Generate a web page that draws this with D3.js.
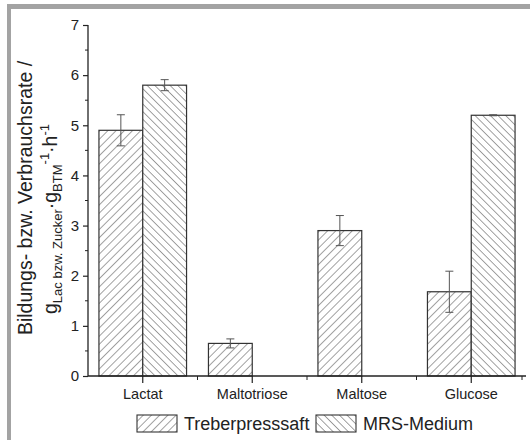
<!DOCTYPE html>
<html>
<head>
<meta charset="utf-8">
<script src="https://cdn.jsdelivr.net/npm/d3@7"></script>
<style>
  body { margin: 0; background: #fff; }
  svg { display: block; font-family: Arial, "Liberation Sans", sans-serif; }
</style>
</head>
<body>
<svg id="chart" width="530" height="440"></svg>
<script>
const categories = ["Lactat", "Maltotriose", "Maltose", "Glucose"];
const seriesNames = ["Treberpresssaft", "MRS-Medium"];
const treberValues = [4.9, 0.65, 2.9, 1.68];
const treberErrors = [0.31, 0.09, 0.3, 0.41];
const mrsValues = [5.8, null, null, 5.2];
const mrsErrors = [0.11, null, null, 0.01];
const yTicks = [0, 1, 2, 3, 4, 5, 6, 7];

const svg = d3.select("#chart");
const x0 = 88, x1 = 526, yBottom = 376, yTop = 25;

const defs = svg.append("defs");
function hatch(id, angle, spacing) {
  const p = defs.append("pattern").attr("id", id)
    .attr("patternUnits", "userSpaceOnUse")
    .attr("width", spacing).attr("height", spacing)
    .attr("patternTransform", `rotate(${angle})`);
  p.append("rect").attr("width", spacing).attr("height", spacing).attr("fill", "#fff");
  p.append("line").attr("x1", 0).attr("y1", -1).attr("x2", 0).attr("y2", spacing + 1)
    .attr("stroke", "#555").attr("stroke-width", 1.1);
}
hatch("hTreber", 45, 5.8);
hatch("hMRS", -45, 5.4);
const fills = ["url(#hTreber)", "url(#hMRS)"];

// frame (top and left gray border)
svg.append("rect").attr("x", 7).attr("y", 4).attr("width", 523).attr("height", 5).attr("fill", "#a3a3a3");
svg.append("rect").attr("x", 7).attr("y", 4).attr("width", 4).attr("height", 436).attr("fill", "#a3a3a3");

const x = d3.scaleBand().domain(categories).range([x0, x1]).paddingInner(0.2).paddingOuter(0.1);
const xs = d3.scaleBand().domain(seriesNames).range([0, x.bandwidth()]);
const y = d3.scaleLinear().domain([0, 7]).range([yBottom, yTop]);

const data = [];
categories.forEach((c, i) => {
  data.push({ c, s: seriesNames[0], v: treberValues[i], e: treberErrors[i], k: 0 });
  data.push({ c, s: seriesNames[1], v: mrsValues[i], e: mrsErrors[i], k: 1 });
});
const valid = data.filter(d => d.v != null);

svg.append("g").selectAll("rect").data(valid).join("rect")
  .attr("x", d => x(d.c) + xs(d.s))
  .attr("y", d => y(d.v))
  .attr("width", xs.bandwidth())
  .attr("height", d => y(0) - y(d.v))
  .attr("fill", d => fills[d.k])
  .attr("stroke", "#333").attr("stroke-width", 1.2);

// error bars
const eb = svg.append("g").attr("stroke", "#555").attr("stroke-width", 1);
valid.forEach(d => {
  const cx = x(d.c) + xs(d.s) + xs.bandwidth() / 2;
  eb.append("line").attr("x1", cx).attr("x2", cx).attr("y1", y(d.v + d.e)).attr("y2", y(d.v - d.e));
  eb.append("line").attr("x1", cx - 4).attr("x2", cx + 4).attr("y1", y(d.v + d.e)).attr("y2", y(d.v + d.e));
  eb.append("line").attr("x1", cx - 4).attr("x2", cx + 4).attr("y1", y(d.v - d.e)).attr("y2", y(d.v - d.e));
});

// y axis
const yAxis = svg.append("g").attr("transform", `translate(${x0},0)`)
  .call(d3.axisLeft(y).tickValues(yTicks).tickFormat(d3.format("d")).tickSize(5).tickPadding(4));
yAxis.append("g").selectAll("line").data(d3.range(0.5, 7, 1)).join("line")
  .attr("x1", -3).attr("x2", 0).attr("y1", d => y(d)).attr("y2", d => y(d)).attr("stroke", "#222");
yAxis.select(".domain").attr("d", `M0,${yBottom}V${yTop}`).attr("stroke", "#222").attr("stroke-width", 1.3);
yAxis.selectAll(".tick line").attr("stroke", "#222").attr("stroke-width", 1.2);
yAxis.selectAll("text").attr("font-size", 15).attr("fill", "#222");

// x axis
const xAxis = svg.append("g").attr("transform", `translate(0,${yBottom})`)
  .call(d3.axisBottom(x).tickSize(7).tickPadding(6));
xAxis.select(".domain").attr("d", `M${x0},0H${x1}`).attr("stroke", "#222").attr("stroke-width", 1.3);
xAxis.selectAll(".tick line").attr("stroke", "#222").attr("stroke-width", 1.2);
xAxis.selectAll("text").attr("font-size", 14.5).attr("fill", "#222");
const step = x.step();
const bounds = categories.slice(0, -1).map(c => x(c) + x.bandwidth() + step * 0.1);
xAxis.append("g").selectAll("line").data(bounds.concat([x1 - 4])).join("line")
  .attr("x1", d => d).attr("x2", d => d).attr("y1", 0).attr("y2", 4).attr("stroke", "#222");

// y label
svg.append("text").attr("transform", "translate(32,198) rotate(-90)")
  .attr("text-anchor", "middle").attr("font-size", 19.5).attr("fill", "#222")
  .text("Bildungs- bzw. Verbrauchsrate /");
const yl2 = svg.append("text").attr("transform", "translate(57,219) rotate(-90)")
  .attr("text-anchor", "middle").attr("font-size", 19.5).attr("fill", "#222");
yl2.append("tspan").text("g");
yl2.append("tspan").attr("font-size", 13).attr("dy", 5).text("Lac bzw. Zucker");
yl2.append("tspan").attr("dy", -5).text("·g");
yl2.append("tspan").attr("font-size", 13).attr("dy", 5).text("BTM");
yl2.append("tspan").attr("font-size", 13).attr("dy", -13).text("-1");
yl2.append("tspan").attr("dy", 8).text("·h");
yl2.append("tspan").attr("font-size", 13).attr("dy", -8).text("-1");

// legend
const legendX = [137, 316];
const lg = svg.append("g");
seriesNames.forEach((s, i) => {
  lg.append("rect").attr("x", legendX[i]).attr("y", 415).attr("width", 40).attr("height", 17)
    .attr("fill", fills[i]).attr("stroke", "#333").attr("stroke-width", 1.1);
  lg.append("text").attr("x", legendX[i] + 47).attr("y", 430).attr("font-size", 18).attr("fill", "#222").text(s);
});
</script>
</body>
</html>
